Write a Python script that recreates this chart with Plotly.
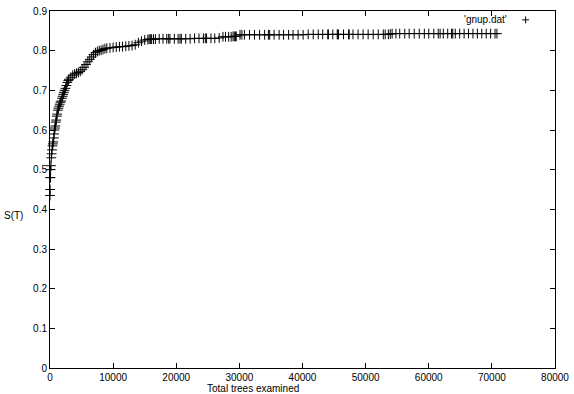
import plotly.graph_objects as go

# Total trees examined (x) and S(T) (y)
trees_early = [0, 20, 40, 60, 100, 150, 200, 260, 320, 400, 450, 520, 600, 650,
               710, 780, 850, 920, 1000, 1080, 1140, 1250, 1350, 1450, 1550, 1650,
               1770, 1900, 2000, 2100, 2200, 2300, 2450, 2600, 2750, 2900, 3000,
               3300, 3600, 3900, 4200, 4500, 4800, 5100, 5400, 5700, 6000, 6300,
               6600, 6900, 7200, 7500, 7800, 8100, 8400, 8700, 9000, 9500, 10000,
               10500, 11000, 11500, 12000, 12500, 13000, 13500, 14000, 14500, 15000]
s_early = [0.435, 0.45, 0.48, 0.48, 0.50, 0.51, 0.53, 0.54, 0.55, 0.56, 0.565, 0.57,
           0.58, 0.59, 0.60, 0.605, 0.61, 0.62, 0.625, 0.635, 0.64, 0.65, 0.655,
           0.66, 0.665, 0.67, 0.673, 0.68, 0.685, 0.69, 0.695, 0.70, 0.705, 0.712,
           0.72, 0.725, 0.728, 0.733, 0.738, 0.741, 0.743, 0.745, 0.748, 0.752,
           0.758, 0.765, 0.772, 0.778, 0.784, 0.790, 0.795, 0.798, 0.800, 0.801,
           0.803, 0.805, 0.806, 0.807, 0.808, 0.809, 0.810, 0.810, 0.811, 0.812,
           0.813, 0.815, 0.820, 0.824, 0.827]

trees_mid = [15500, 15700, 15900, 16100, 16400, 16700, 17300, 17900, 18500, 18800,
             19000, 19700, 20300, 20600, 20800, 21500, 22200, 22900, 23600, 24300,
             24600, 24800, 25500, 26100, 26800, 27400, 27800, 28300, 28700, 29000,
             29200, 29400, 29500]
s_mid = [0.828, 0.829, 0.829, 0.829, 0.829, 0.829, 0.830, 0.830, 0.830, 0.830,
         0.830, 0.830, 0.830, 0.830, 0.830, 0.830, 0.830, 0.831, 0.831, 0.831,
         0.831, 0.831, 0.831, 0.831, 0.832, 0.835, 0.835, 0.835, 0.835, 0.836,
         0.836, 0.836, 0.836]

trees_late = [30100, 30400, 30800, 31600, 32400, 33200, 34000, 34600, 34800, 35500,
              36300, 37000, 37800, 38500, 39300, 40100, 40900, 41700, 42500, 43200,
              44000, 44100, 44800, 45500, 45600, 45700, 46500, 47300, 47400, 48000,
              48800, 49600, 50400, 51200, 52000, 52800, 53100, 53600, 53900, 54200,
              54800, 55400, 56200, 56900, 57700, 58500, 59300, 60000, 60800, 61500,
              61800, 62300, 63000, 63600, 63800, 64200, 64900, 65600, 66300, 67000,
              67700, 68400, 69100, 69800, 70500, 70800]
s_late = [0.840, 0.840, 0.840, 0.840, 0.840, 0.840, 0.840, 0.840, 0.840, 0.840,
          0.840, 0.840, 0.840, 0.840, 0.840, 0.840, 0.841, 0.841, 0.841, 0.841,
          0.841, 0.841, 0.841, 0.841, 0.841, 0.841, 0.841, 0.841, 0.841, 0.841,
          0.841, 0.841, 0.841, 0.841, 0.841, 0.841, 0.841, 0.841, 0.842, 0.843,
          0.843, 0.843, 0.843, 0.843, 0.843, 0.843, 0.843, 0.843, 0.843, 0.843,
          0.843, 0.843, 0.843, 0.843, 0.843, 0.843, 0.843, 0.843, 0.843, 0.843,
          0.843, 0.843, 0.843, 0.843, 0.843, 0.843]

x_ticks = [0, 10000, 20000, 30000, 40000, 50000, 60000, 70000, 80000]
y_ticks = [0, 0.1, 0.2, 0.3, 0.4, 0.5, 0.6, 0.7, 0.8, 0.9]
y_tick_labels = ["0", "0.1", "0.2", "0.3", "0.4", "0.5", "0.6", "0.7", "0.8", "0.9"]
series_name = "'gnup.dat'"

trees = trees_early + trees_mid + trees_late
s_vals = s_early + s_mid + s_late

FONT = "Liberation Sans Narrow, Liberation Sans, Arial, sans-serif"
FS = 10

fig = go.Figure()
fig.add_trace(go.Scatter(
    x=trees, y=s_vals, mode="markers", name=series_name,
    marker=dict(symbol="cross-thin-open", size=7, color="black",
                line=dict(color="black", width=1)),
    showlegend=False, cliponaxis=False,
))

axis_common = dict(
    showgrid=False, zeroline=False, showline=True, linecolor="black", linewidth=1,
    mirror="ticks", ticks="inside", ticklen=5, tickcolor="black", tickwidth=1,
    tickfont=dict(family=FONT, size=FS, color="black"),
)

fig.update_xaxes(range=[0, 80000], tickvals=x_ticks,
                 ticktext=[str(v) for v in x_ticks], **axis_common)
fig.update_yaxes(range=[0, 0.9], tickvals=y_ticks, ticktext=y_tick_labels,
                 **axis_common)

fig.update_layout(
    width=574, height=394,
    margin=dict(l=50, r=17, t=5, b=26),
    paper_bgcolor="white", plot_bgcolor="white",
    font=dict(family=FONT, size=FS, color="black"),
    annotations=[
        dict(text="Total trees examined", xref="paper", yref="paper",
             x=(254 - 50) / 507, y=(368 - 389) / 363, xanchor="center",
             yanchor="middle", showarrow=False, font=dict(family=FONT, size=FS)),
        dict(text="S(T)", xref="paper", yref="paper",
             x=(2 - 50) / 507, y=(368 - 213) / 363, xanchor="left",
             yanchor="middle", showarrow=False, font=dict(family=FONT, size=FS)),
        dict(text=series_name, xref="paper", yref="paper",
             x=(511 - 50) / 507, y=(368 - 14) / 363, xanchor="right",
             yanchor="middle", showarrow=False, font=dict(family=FONT, size=FS)),
    ],
    shapes=[
        dict(type="line", xref="paper", yref="paper",
             x0=(524 - 50) / 507, x1=(531 - 50) / 507,
             y0=(368 - 14) / 363, y1=(368 - 14) / 363,
             line=dict(color="black", width=1)),
        dict(type="line", xref="paper", yref="paper",
             x0=(527.5 - 50) / 507, x1=(527.5 - 50) / 507,
             y0=(368 - 10.5) / 363, y1=(368 - 17.5) / 363,
             line=dict(color="black", width=1)),
    ],
)

fig.write_html("out.html", config={"displayModeBar": False},
               post_script="document.body.style.margin='0px';")
